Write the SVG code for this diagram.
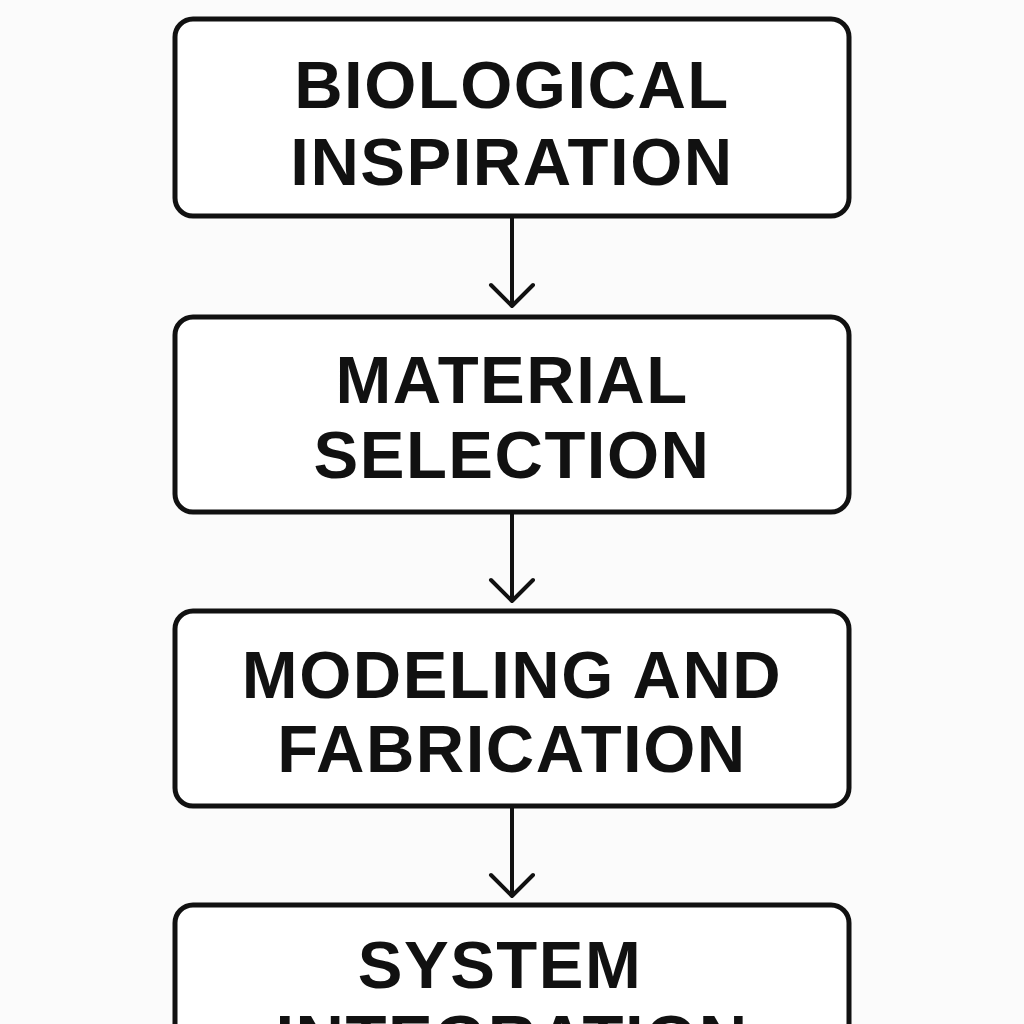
<svg xmlns="http://www.w3.org/2000/svg" width="1024" height="1024" viewBox="0 0 1024 1024">
<defs>
<style>
.box{fill:#ffffff;stroke:#111111;stroke-width:5}
.lbl{font-family:"Liberation Sans",Arial,sans-serif;font-weight:bold;font-size:67px;fill:#111111;text-anchor:middle;letter-spacing:1.5px}
.conn{stroke:#111111;stroke-width:4;fill:none;stroke-linecap:round;stroke-linejoin:round}
</style>
</defs>
<rect width="1024" height="1024" fill="#fbfbfb"/>
<g id="connectors">
<path class="conn" d="M512 216 V306 M491 285 L512 306 L533 285"/>
<path class="conn" d="M512 512 V601 M491 580 L512 601 L533 580"/>
<path class="conn" d="M512 806 V896 M491 875 L512 896 L533 875"/>
</g>
<g id="node1">
<rect class="box" x="175" y="19" width="674" height="197" rx="18"/>
<text class="lbl" x="512" y="108">BIOLOGICAL</text>
<text class="lbl" x="512" y="185">INSPIRATION</text>
</g>
<g id="node2">
<rect class="box" x="175" y="317" width="674" height="195" rx="18"/>
<text class="lbl" x="512" y="403">MATERIAL</text>
<text class="lbl" x="512" y="478">SELECTION</text>
</g>
<g id="node3">
<rect class="box" x="175" y="611" width="674" height="195" rx="18"/>
<text class="lbl" x="512" y="698">MODELING AND</text>
<text class="lbl" x="512" y="772">FABRICATION</text>
</g>
<g id="node4">
<rect class="box" x="175" y="905" width="674" height="200" rx="18"/>
<text class="lbl" x="500" y="988">SYSTEM</text>
<text class="lbl" x="512" y="1062">INTEGRATION</text>
</g>
</svg>
